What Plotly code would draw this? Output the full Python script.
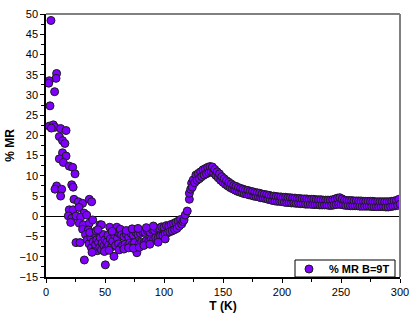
import plotly.graph_objects as go

# Low-temperature scatter (T in K, %MR)
t_low = [4.2, 9, 8.5, 2.8, 2.3, 7.3, 3.4, 2.8, 6.2, 7.6, 4.5, 12.4, 17, 11.3, 14, 16, 14, 17, 11.3, 14.7,
         19.7, 22.6, 24.6, 9, 7.6, 13.3, 12.4, 21.8, 23, 23.7, 27.4, 31, 36.7, 38.7, 19.7, 23, 28, 32.2,
         18.9, 21.8, 25.4, 29.4, 34.5, 20.9, 28.2, 31.6, 36.7, 39.6, 31, 35.9, 45.8, 25.4, 28.8, 32.5, 50.3]
mr_low = [48.4, 35.3, 34.1, 33.5, 32.9, 30.8, 27.3, 22.3, 22.6, 22.0, 21.8, 21.7, 21.2, 19.7, 18.7, 18.0, 15.7, 14.9, 14.2, 13.3,
          12.4, 12.1, 10.5, 7.5, 6.7, 6.7, 5.0, 7.8, 7.2, 4.2, 3.6, 3.2, 4.2, 3.6, 1.6, 1.6, 2.2, 0.8,
          0.1, -0.5, 0.1, -0.2, 0.3, -1.5, -1.7, -2.1, -1.7, -0.9, -3.2, -3.4, -2.1, -6.5, -6.5, -10.8, -12.0]

# Dense cluster 33-63 K
t_clu = [33.5, 35, 36.5, 38, 38.5, 40, 40.5, 41.5, 42, 43, 43.5, 44.5, 45.5, 46, 47, 47.5, 48.5, 49, 50, 51,
         51.5, 52.5, 53, 54, 54.5, 55.5, 56.5, 57.6, 58, 59, 60, 60.5, 61.5, 62.5, 63.5, 62, 63, 37, 42.5, 47,
         39, 44, 49.5, 53.5, 56]
mr_clu = [-4.5, -5.8, -6.8, -5.2, -7.8, -6.3, -4.2, -8.2, -7.0, -5.8, -8.5, -6.5, -7.7, -5.3, -8.3, -6.6, -4.5, -7.3, -5.8, -8.0,
          -6.4, -4.7, -7.1, -2.7, -5.6, -7.6, -6.2, -9.9, -4.6, -7.2, -2.7, -5.5, -6.8, -4.3, -7.5, -8.3, -3.2, -4.0, -3.6, -2.1,
          -8.9, -3.3, -8.7, -8.4, -3.7]

# Band 64-120 K (negative minimum and upturn)
t_mid = [64, 65, 66, 67, 68, 69, 70, 71, 72, 73, 74, 75, 76, 77, 78, 79, 80, 81, 82, 83,
         84, 85, 86, 87, 88, 89, 90, 91, 92, 93, 94, 95, 96, 97, 98, 99, 100, 101, 102, 103,
         104, 105, 106, 107, 108, 109, 110, 111, 112, 113, 114, 115, 116, 117, 118, 119.7,
         66, 70, 74, 79, 83, 88, 68, 73, 78, 85, 91, 95, 101]
mr_mid = [-4.6, -7.2, -5.0, -6.9, -4.4, -7.4, -5.1, -6.6, -4.2, -7.0, -4.7, -6.5, -3.9, -9.0, -4.5, -6.8, -4.2, -6.4, -3.8, -6.6,
          -4.0, -6.0, -3.6, -6.2, -3.9, -5.7, -3.3, -5.9, -3.5, -5.3, -3.0, -5.4, -2.9, -4.9, -2.6, -4.8, -2.7, -4.4, -2.3, -4.1,
          -2.4, -3.8, -2.0, -3.6, -1.8, -3.3, -1.5, -3.0, -1.2, -2.4, -0.8, -1.9, -1.3, -0.9, 0.3, 1.3,
          -8.1, -7.8, -7.9, -7.7, -7.2, -6.9, -3.5, -3.1, -3.0, -2.8, -2.4, -6.4, -5.6]

# Rise, maximum and high-temperature tail
t_high = [121.5, 121.5, 122.6, 123.4, 124, 124.8, 126, 127, 128,
          129, 130, 131, 132, 133, 134, 135, 136, 137, 138, 139, 140, 141, 142, 143, 144, 145, 146, 147, 148,
          149, 150, 151, 152, 153, 154, 155, 156, 157, 158, 159, 160, 161, 162, 163, 164, 165, 166, 167, 168,
          169, 170, 171, 172, 173, 174, 175, 176, 177, 178, 179, 180, 181, 182, 183, 184, 185, 186, 187, 188,
          189, 190, 191, 192, 193, 194, 195, 196, 197, 198, 199, 200, 201, 202, 203, 204, 205, 206, 207, 208,
          209, 210, 211, 212, 213, 214, 215, 216, 217, 218, 219, 220, 221, 222, 223, 224, 225, 226, 227, 228,
          229, 230, 231, 232, 233, 234, 235, 236, 237, 238, 239, 240, 241, 242, 243, 244, 245, 246, 247, 248,
          249, 250, 251, 252, 253, 254, 255, 256, 257, 258, 259, 260, 261, 262, 263, 264, 265, 266, 267, 268,
          269, 270, 271, 272, 273, 274, 275, 276, 277, 278, 279, 280, 281, 282, 283, 284, 285, 286, 287, 288,
          289, 290, 291, 292, 293, 294, 295, 296, 297, 298, 299, 300]
mr_high = [4.2, 5.7, 6.7, 8.2, 7.2, 9.0, 8.3, 10.2, 8.9,
           10.6, 9.3, 11.0, 9.8, 11.5, 10.2, 11.8, 10.5, 12.1, 10.8, 12.3, 11.0, 12.2, 10.7, 11.6, 10.1, 11.0, 9.5, 10.5, 8.9,
           9.8, 8.4, 9.3, 7.9, 8.8, 7.5, 8.4, 7.1, 8.0, 6.8, 7.6, 6.5, 7.4, 6.2, 7.1, 6.0, 6.9, 5.8, 6.7, 5.6,
           6.5, 5.5, 6.4, 5.3, 6.2, 5.2, 6.1, 5.0, 5.9, 4.9, 5.8, 4.8, 5.7, 4.6, 5.5, 4.5, 5.4, 4.4, 5.3, 4.2,
           5.2, 4.1, 5.0, 3.9, 5.0, 3.8, 4.9, 3.7, 4.8, 3.7, 4.8, 3.6, 4.7, 3.5, 4.7, 3.4, 4.6, 3.4, 4.6, 3.3,
           4.5, 3.3, 4.5, 3.2, 4.4, 3.2, 4.4, 3.1, 4.3, 3.1, 4.3, 3.0, 4.3, 3.0, 4.2, 3.0, 4.2, 2.9, 4.2, 2.9,
           4.1, 2.9, 4.1, 2.8, 4.1, 2.8, 4.0, 2.8, 4.0, 2.8, 4.0, 2.7, 4.0, 2.7, 4.1, 2.8, 4.3, 2.9, 4.5, 3.0,
           4.6, 2.9, 4.3, 2.8, 4.0, 2.7, 3.9, 2.7, 3.9, 2.6, 3.9, 2.6, 3.8, 2.6, 3.8, 2.6, 3.8, 2.5, 3.8, 2.5,
           3.7, 2.5, 3.7, 2.5, 3.7, 2.5, 3.7, 2.4, 3.7, 2.4, 3.6, 2.4, 3.6, 2.4, 3.6, 2.4, 3.6, 2.4, 3.6, 2.3,
           3.6, 2.3, 3.6, 2.4, 3.7, 2.5, 3.8, 2.6, 3.9, 2.7, 4.2, 3.0]

T = t_low + t_clu + t_mid + t_high
MR = mr_low + mr_clu + mr_mid + mr_high

x_ticks = [0, 50, 100, 150, 200, 250, 300]
y_ticks = [-15, -10, -5, 0, 5, 10, 15, 20, 25, 30, 35, 40, 45, 50]

FONT = "Liberation Sans, Arial, sans-serif"

fig = go.Figure()
fig.add_trace(go.Scatter(
    x=T, y=MR, mode="markers", name="<b>% MR B=9T</b>",
    marker=dict(size=8, color="#8000FF", line=dict(color="#1a1a1a", width=1)),
))

# plot area in pixels: x 46..400, y 14..277
PW, PH = 354.0, 263.0

fig.update_layout(
    width=415, height=319,
    margin=dict(l=46, r=15, t=14, b=42),
    paper_bgcolor="white", plot_bgcolor="white",
    font=dict(family=FONT, size=11, color="black"),
    showlegend=True,
    legend=dict(x=(289 - 46) / PW, xanchor="left", y=(277 - 269) / PH, yanchor="middle",
                borderwidth=0, bgcolor="rgba(0,0,0,0)",
                font=dict(size=11, family=FONT), itemwidth=30),
    xaxis=dict(range=[0, 300], tickvals=x_ticks, ticks="outside", ticklen=4,
               tickcolor="black", showline=True, linecolor="black", linewidth=1.5,
               showgrid=False, zeroline=False, automargin=False,
               minor=dict(ticks="outside", dtick=25, tick0=0, ticklen=3, tickcolor="black"),
               title=dict(text="<b>T (K)</b>", font=dict(size=12, family=FONT), standoff=5),
               tickfont=dict(size=11, family=FONT)),
    yaxis=dict(range=[-15, 50], tickvals=y_ticks, ticks="outside", ticklen=4,
               tickcolor="black", showline=True, linecolor="black", linewidth=1.5,
               showgrid=False, zeroline=True, zerolinecolor="black", zerolinewidth=1,
               automargin=False,
               minor=dict(ticks="outside", dtick=2.5, tick0=0, ticklen=3, tickcolor="black"),
               title=dict(text="<b>% MR</b>", font=dict(size=12, family=FONT), standoff=2),
               tickfont=dict(size=11, family=FONT)),
)

# grey top and right frame lines
fig.add_shape(type="line", xref="paper", yref="paper", x0=0, x1=1, y0=1, y1=1,
              line=dict(color="#808080", width=2))
fig.add_shape(type="line", xref="paper", yref="paper", x0=1, x1=1, y0=0, y1=1,
              line=dict(color="#808080", width=2))
# legend frame
fig.add_shape(type="rect", xref="paper", yref="paper",
              x0=(295 - 46) / PW, x1=(395 - 46) / PW, y0=0, y1=(277 - 260) / PH,
              line=dict(color="black", width=1), fillcolor="white", layer="above")

fig.write_html("out.html", config={"displayModeBar": False},
               post_script="document.body.style.margin='0';")
